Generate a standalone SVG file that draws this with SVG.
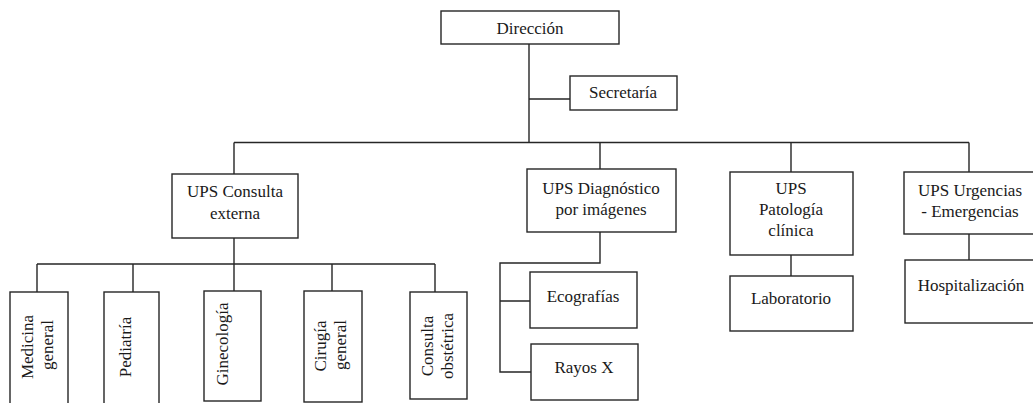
<svg xmlns="http://www.w3.org/2000/svg" width="1033" height="403" viewBox="0 0 1033 403">
<style>
  .box { fill: #fff; stroke: #262626; stroke-width: 1.4; }
  .ln { fill: none; stroke: #262626; stroke-width: 1.4; }
  text { font-family: "Liberation Serif", "Times New Roman", serif; font-size: 17px; fill: #1a1a1a; text-anchor: middle; }
</style>
<rect width="1033" height="403" fill="#fff"/>
<g id="connectors">
  <path class="ln" d="M529 44 V142.5 M529 99 H570"/>
  <path class="ln" d="M234 142.5 H969 M234 142.5 V174 M600 142.5 V169 M791 142.5 V172 M969 142.5 V172"/>
  <path class="ln" d="M234 238 V291 M37 264 H435 M37 264 V292 M133 264 V292 M332 264 V291 M435 264 V292"/>
  <path class="ln" d="M600 232 V263 H500 V372 H531 M500 301 H530"/>
  <path class="ln" d="M791 255 V276"/>
  <path class="ln" d="M969 234 V260"/>
</g>
<g id="direccion">
  <rect class="box" x="441" y="11" width="178" height="33"/>
  <text x="530" y="34">Dirección</text>
</g>
<g id="secretaria">
  <rect class="box" x="570" y="76" width="107" height="34"/>
  <text x="623" y="98">Secretaría</text>
</g>
<g id="consulta-externa">
  <rect class="box" x="172" y="174" width="126" height="64"/>
  <text x="235" y="197">UPS Consulta</text>
  <text x="235" y="219">externa</text>
</g>
<g id="diagnostico">
  <rect class="box" x="527" y="169" width="149" height="63"/>
  <text x="601" y="194">UPS Diagnóstico</text>
  <text x="601" y="215">por imágenes</text>
</g>
<g id="patologia">
  <rect class="box" x="730" y="172" width="123" height="83"/>
  <text x="791" y="194">UPS</text>
  <text x="791" y="215">Patología</text>
  <text x="791" y="236">clínica</text>
</g>
<g id="urgencias">
  <rect class="box" x="904" y="172" width="140" height="62"/>
  <text x="970" y="196">UPS Urgencias</text>
  <text x="970" y="217">- Emergencias</text>
</g>
<g id="ecografias">
  <rect class="box" x="530" y="272" width="107" height="56"/>
  <text x="583" y="302">Ecografías</text>
</g>
<g id="rayos-x">
  <rect class="box" x="531" y="344" width="107" height="56"/>
  <text x="584" y="373">Rayos X</text>
</g>
<g id="laboratorio">
  <rect class="box" x="730" y="276" width="123" height="55"/>
  <text x="791" y="304">Laboratorio</text>
</g>
<g id="hospitalizacion">
  <rect class="box" x="905" y="260" width="140" height="63"/>
  <text x="971" y="291">Hospitalización</text>
</g>
<g id="medicina-general">
  <rect class="box" x="10" y="292" width="58" height="120"/>
  <text transform="translate(33 347) rotate(-90)">Medicina</text>
  <text transform="translate(53 345) rotate(-90)">general</text>
</g>
<g id="pediatria">
  <rect class="box" x="104" y="292" width="55" height="120"/>
  <text transform="translate(131 347) rotate(-90)">Pediatría</text>
</g>
<g id="ginecologia">
  <rect class="box" x="204" y="291" width="57" height="110"/>
  <text transform="translate(228 344) rotate(-90)">Ginecología</text>
</g>
<g id="cirugia-general">
  <rect class="box" x="304" y="291" width="58" height="111"/>
  <text transform="translate(326 346) rotate(-90)">Cirugía</text>
  <text transform="translate(346 345) rotate(-90)">general</text>
</g>
<g id="consulta-obstetrica">
  <rect class="box" x="410" y="292" width="57" height="107"/>
  <text transform="translate(433 346) rotate(-90)">Consulta</text>
  <text transform="translate(453 346) rotate(-90)">obstétrica</text>
</g>
</svg>
